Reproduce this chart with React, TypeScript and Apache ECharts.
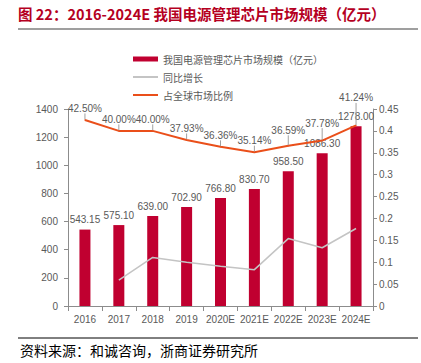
import React, { useEffect, useRef } from "react";
import * as echarts from "echarts";

const categories = ["2016", "2017", "2018", "2019", "2020E", "2021E", "2022E", "2023E", "2024E"];
const marketSize = [543.15, 575.1, 639.0, 702.9, 766.8, 830.7, 958.5, 1086.3, 1278.0];
const yoyGrowth: (number | null)[] = [null, 0.059, 0.111, 0.1, 0.091, 0.083, 0.154, 0.133, 0.177];
const globalShare = [0.425, 0.4, 0.4, 0.3793, 0.3636, 0.3514, 0.3659, 0.3778, 0.4124];

const seriesNames = ["我国电源管理芯片市场规模（亿元）", "同比增长", "占全球市场比例"];
const titleText = "图 22：2016-2024E 我国电源管理芯片市场规模（亿元）";
const sourceText = "资料来源：和诚咨询，浙商证券研究所";

const RED = "#C00030";
const ORANGE = "#EA4F1A";
const GRAY_LINE = "#C4C4C4";
const AXIS = "#8C8C8C";
const TXT = "#595959";
const NUM_FONT = "'Liberation Sans', Arial, sans-serif";
const CJK_FONT = "'Noto Sans CJK SC', sans-serif";

export default function App() {
  const ref = useRef<HTMLDivElement>(null);
  useEffect(() => {
    if (!ref.current) return;
    const chart = echarts.init(ref.current, undefined, { renderer: "svg" });
    const legendCommon = {
      orient: "vertical" as const,
      left: 128,
      itemWidth: 25,
      selectedMode: false,
      textStyle: { color: TXT, fontSize: 10, fontFamily: CJK_FONT },
      icon: "rect",
    };
    const labelShift: Record<number, number> = { 6: 4, 7: 6, 8: 16 };
    chart.setOption({
      animation: false,
      grid: { left: 68, right: 48, top: 109, bottom: 57 },
      legend: [
        { ...legendCommon, data: [seriesNames[0]], top: 49, itemHeight: 5 },
        { ...legendCommon, data: [seriesNames[1]], top: 67, itemHeight: 2 },
        { ...legendCommon, data: [seriesNames[2]], top: 85, itemHeight: 2 },
      ],
      graphic: [
        {
          type: "text",
          left: 18,
          top: 6,
          style: { text: titleText, fill: "#B5001F", font: `bold 14.5px ${CJK_FONT}` },
        },
        {
          type: "line",
          shape: { x1: 18, y1: 29, x2: 418, y2: 29 },
          style: { stroke: "#7F7F7F", lineWidth: 1.5 },
        },
        {
          type: "line",
          shape: { x1: 18, y1: 338, x2: 418, y2: 338 },
          style: { stroke: "#000000", lineWidth: 1 },
        },
        {
          type: "text",
          left: 20,
          top: 343,
          style: { text: sourceText, fill: "#000000", font: `14px ${CJK_FONT}` },
        },
      ],
      xAxis: {
        type: "category",
        data: categories,
        axisLine: { lineStyle: { color: AXIS } },
        axisTick: { show: true, length: 5, lineStyle: { color: AXIS } },
        axisLabel: { color: TXT, fontSize: 10, fontFamily: NUM_FONT, margin: 8, interval: 0 },
      },
      yAxis: [
        {
          type: "value",
          min: 0,
          max: 1400,
          interval: 200,
          axisLine: { show: true, lineStyle: { color: AXIS } },
          axisTick: { show: true, length: 4, lineStyle: { color: AXIS } },
          splitLine: { show: false },
          axisLabel: {
            color: TXT,
            fontSize: 10,
            fontFamily: NUM_FONT,
            margin: 10,
            formatter: (v: number) => String(v),
          },
        },
        {
          type: "value",
          min: 0,
          max: 0.45,
          interval: 0.05,
          position: "right",
          axisLine: { show: true, lineStyle: { color: AXIS } },
          axisTick: { show: true, length: 4, lineStyle: { color: AXIS } },
          splitLine: { show: false },
          axisLabel: {
            color: TXT,
            fontSize: 10,
            fontFamily: NUM_FONT,
            margin: 6,
            formatter: (v: number) => String(parseFloat(v.toFixed(2))),
          },
        },
      ],
      series: [
        {
          name: seriesNames[0],
          type: "bar",
          data: marketSize,
          barWidth: 11,
          itemStyle: { color: RED },
          label: {
            show: true,
            position: "top",
            distance: 5,
            color: TXT,
            fontSize: 10,
            fontFamily: NUM_FONT,
            formatter: (p: any) => Number(p.value).toFixed(2),
          },
        },
        {
          name: seriesNames[1],
          type: "line",
          yAxisIndex: 1,
          data: yoyGrowth,
          symbol: "none",
          lineStyle: { color: GRAY_LINE, width: 1.5 },
          itemStyle: { color: GRAY_LINE },
        },
        {
          name: seriesNames[2],
          type: "line",
          yAxisIndex: 1,
          data: globalShare,
          symbol: "circle",
          symbolSize: 1,
          lineStyle: { color: ORANGE, width: 2 },
          itemStyle: { color: ORANGE },
          label: {
            show: true,
            position: "top",
            distance: 6,
            color: TXT,
            fontSize: 10,
            fontFamily: NUM_FONT,
            formatter: (p: any) => (Number(p.value) * 100).toFixed(2) + "%",
          },
          labelLine: { show: true, lineStyle: { color: "#A0A0A0", width: 1 } },
          labelLayout: (params: any) => {
            const s = labelShift[params.dataIndex];
            return s ? { dy: -s } : {};
          },
        },
      ],
    });
    return () => chart.dispose();
  }, []);
  return (
    <div
      ref={ref}
      style={{ position: "absolute", left: 0, top: 0, width: 421, height: 363, background: "#fff" }}
    />
  );
}
